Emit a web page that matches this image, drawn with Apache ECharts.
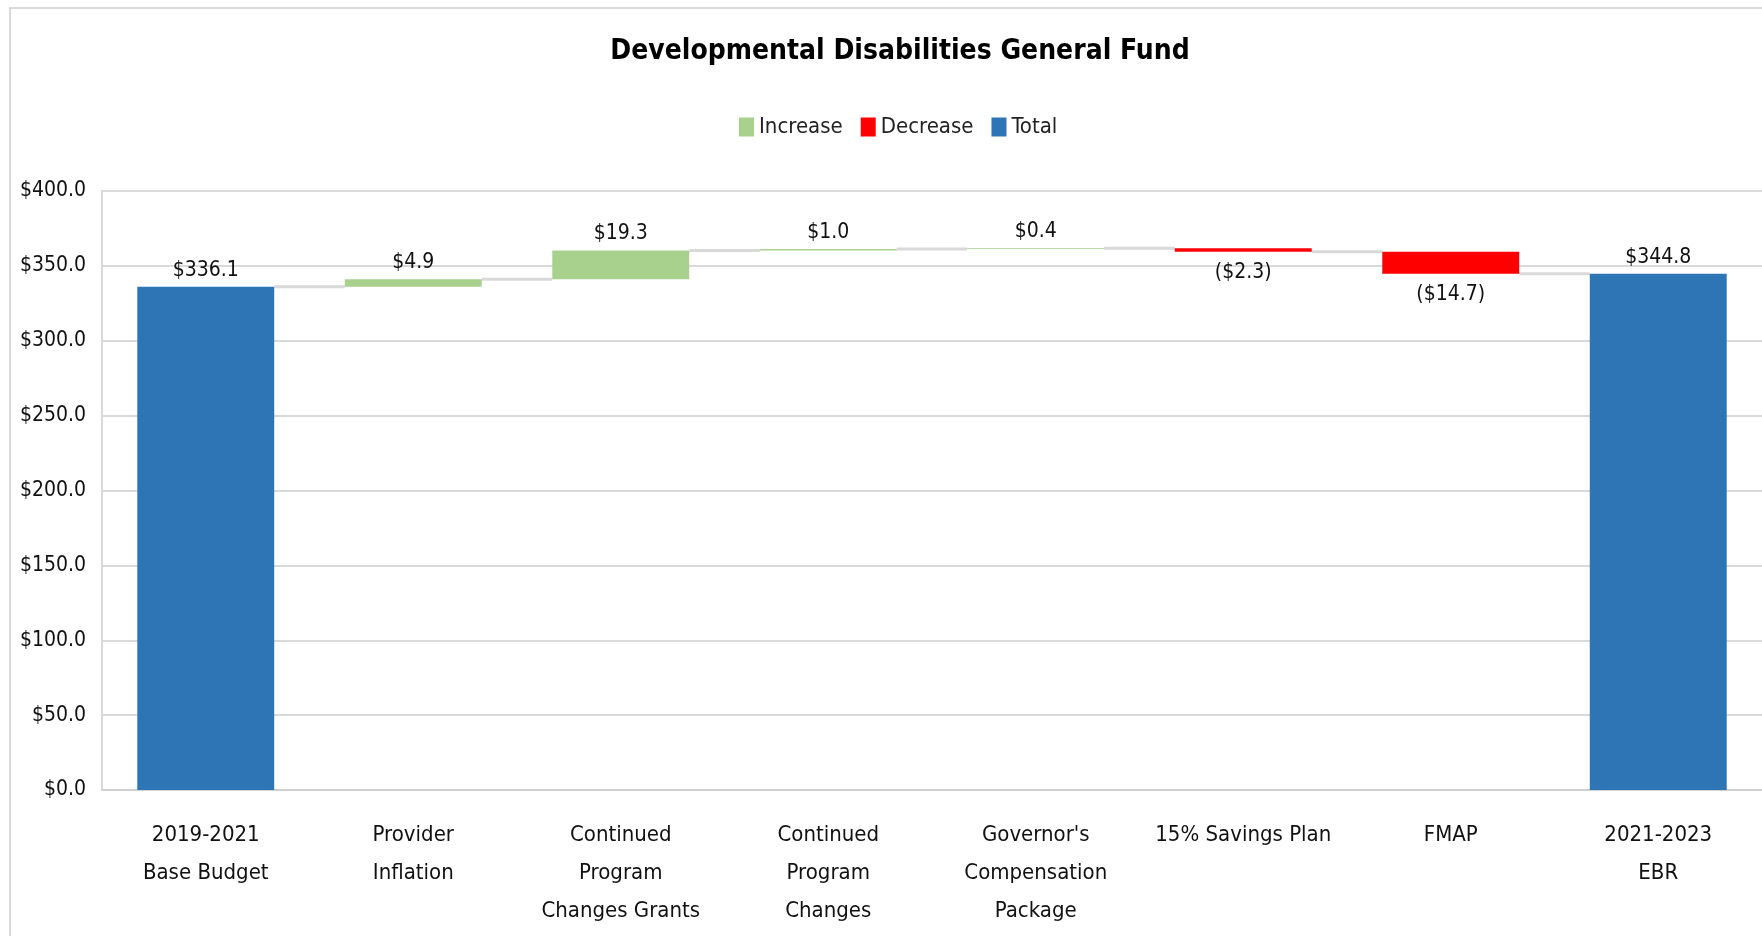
<html style="height: 100%">
<meta http-equiv=Content-Type content="text/html;charset=utf-8" />
<script type="text/javascript" src="https://cdn.jsdelivr.net/npm/echarts@6/dist/echarts.min.js"></script>

<script type="text/javascript">

	// categories (line breaks as in the original axis)
	var categories = ["2019-2021\nBase Budget", "Provider\nInflation", "Continued\nProgram\nChanges Grants",
		"Continued\nProgram\nChanges", "Governor's\nCompensation\nPackage", "15% Savings Plan", "FMAP", "2021-2023\nEBR"];
	// values in millions
	var increase = ['-', 4.9, 19.3, 1.0, 0.4, '-', '-', '-'];
	var decrease = ['-', '-', '-', '-', '-', 2.3, 14.7, '-'];
	var total = [336.1, '-', '-', '-', '-', '-', '-', 344.8];
	var yTicks = [0, 50, 100, 150, 200, 250, 300, 350, 400];

	var FONT = "'Liberation Sans Narrow', 'DejaVu Sans Condensed', sans-serif";

	window.onload = function() {
		// running level and invisible base for each floating bar
		var base = [];
		var levels = [];
		var level = 0;
		for (var i = 0; i < categories.length; i++) {
			if (total[i] !== '-') {
				base.push('-');
				level = total[i];
			} else if (increase[i] !== '-') {
				base.push(level);
				level = level + increase[i];
			} else {
				level = level - decrease[i];
				base.push(level);
			}
			levels.push(level);
		}
		// connector lines sit at the level reached after each bar
		var connectors = [];
		for (var j = 0; j < categories.length - 1; j++) {
			connectors.push([j, levels[j]]);
		}

		var money = function(v) { return '$' + Number(v).toFixed(1); };

		var myChart = echarts.init(document.getElementById('echart'));
		myChart.setOption({
			animation: false,
			textStyle: { fontFamily: FONT },
			graphic: [{
				type: 'rect', left: 9, top: 7, z: -10,
				shape: { width: 1800, height: 1000 },
				style: { fill: '#fff', stroke: '#d9d9d9', lineWidth: 2 }
			}],
			title: {
				text: 'Developmental Disabilities General Fund',
				left: 895, top: 33, textAlign: 'center',
				textStyle: { fontFamily: FONT, fontSize: 28, fontWeight: 'bold', color: '#000' }
			},
			legend: {
				data: ['Increase', 'Decrease', 'Total'],
				left: 734, top: 111,
				itemWidth: 15, itemHeight: 19, itemGap: 18,
				icon: 'rect',
				textStyle: { fontFamily: FONT, fontSize: 22, color: '#222' }
			},
			grid: { left: 102, top: 191, right: -4, bottom: 146, containLabel: false },
			xAxis: {
				type: 'category',
				data: categories,
				axisTick: { show: false },
				axisLine: { lineStyle: { color: '#d0d0d0', width: 2 } },
				axisLabel: { interval: 0, margin: 26, fontSize: 22, lineHeight: 38, color: '#111', fontFamily: FONT }
			},
			yAxis: {
				type: 'value',
				min: 0, max: 400, interval: 50,
				axisLine: { show: true, lineStyle: { color: '#d9d9d9', width: 2 } },
				splitLine: { lineStyle: { color: '#d9d9d9', width: 2 } },
				axisLabel: { margin: 16, fontSize: 21, color: '#111', fontFamily: FONT, formatter: money }
			},
			series: [
				{
					name: 'base', type: 'bar', stack: 'w', barWidth: '66%',
					itemStyle: { color: 'transparent' },
					data: base
				},
				{
					name: 'Increase', type: 'bar', stack: 'w',
					itemStyle: { color: '#a9d18e' },
					label: { show: true, position: 'top', distance: 6, fontSize: 21, color: '#111', fontFamily: FONT, formatter: function(p) { return money(p.value); } },
					data: increase
				},
				{
					name: 'Decrease', type: 'bar', stack: 'w',
					itemStyle: { color: '#ff0000' },
					label: { show: true, position: 'bottom', distance: 10, fontSize: 21, color: '#111', fontFamily: FONT, formatter: function(p) { return '(' + money(p.value) + ')'; } },
					data: decrease
				},
				{
					name: 'Total', type: 'bar', stack: 'w',
					itemStyle: { color: '#2e75b6' },
					label: { show: true, position: 'top', distance: 6, fontSize: 21, color: '#111', fontFamily: FONT, formatter: function(p) { return money(p.value); } },
					data: total
				},
				{
					name: 'connector', type: 'custom', z: 1,
					renderItem: function(params, api) {
						var p = api.coord([api.value(0), api.value(1)]);
						var w = api.size([1, 0])[0];
						var half = w * 0.66 / 2;
						return {
							type: 'line',
							shape: { x1: p[0] + half, y1: p[1], x2: p[0] + w - half, y2: p[1] },
							style: { stroke: '#d9d9d9', lineWidth: 3 }
						};
					},
					data: connectors
				}
			]
		});
	};

</script>

<body style="height: 100%; margin: 0">
	<div id="echart" style="width: 1762px; height: 936px"></div>
</body>
</html>
